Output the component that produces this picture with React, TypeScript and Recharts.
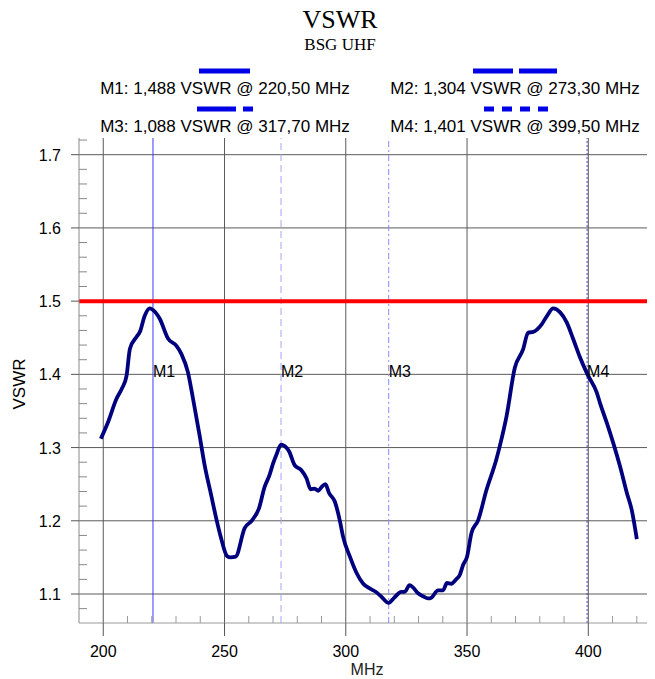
import { LineChart, Line, XAxis, YAxis, ReferenceLine, ReferenceDot } from 'recharts';

const freqs = [
  199, 202, 205.5, 207.6, 209.6, 211, 213.7, 215.1, 217.1, 219.2, 220.5, 223.3, 226.7, 230.2, 232.2,
  234.9, 237, 239.7, 241.8, 244.5, 246.6, 248.6, 251, 252.5, 254.6, 258.3, 261.2, 264.2, 266.5, 268.5,
  270, 271.6, 273.3, 274.8, 276.6, 278.9, 281.7, 283.8, 285.5, 287.2, 288.6, 290, 291.6, 293.1, 295.5,
  297.5, 298.9, 301.7, 304.4, 307.2, 310.2, 312.3, 314.5, 317.7, 320, 322.9, 324.3, 326.3, 327.7, 329.8,
  331.8, 333.9, 335.3, 338, 340.1, 341.7, 343.5, 345.5, 347, 348.4, 350, 351.8, 354.6, 358, 362.1,
  363.5, 366.3, 369.7, 373.1, 375.2, 377.3, 380.7, 383, 385.5, 388.3, 391.1, 393.8, 396.6, 399.5, 403.5,
  404.8, 407.6, 410.3, 413.1, 415.9, 417.9, 420,
];
const vswr = [
  1.312, 1.335, 1.367, 1.38, 1.398, 1.435, 1.451, 1.458, 1.48, 1.49, 1.488, 1.476, 1.449, 1.439, 1.428,
  1.403, 1.367, 1.317, 1.276, 1.235, 1.203, 1.176, 1.152, 1.15, 1.151, 1.19, 1.2, 1.217, 1.246, 1.262,
  1.278, 1.292, 1.304, 1.302, 1.295, 1.276, 1.269, 1.258, 1.243, 1.244, 1.241, 1.246, 1.25, 1.238, 1.226,
  1.201, 1.178, 1.151, 1.129, 1.114, 1.107, 1.103, 1.097, 1.088, 1.095, 1.103, 1.103, 1.112, 1.109, 1.101,
  1.097, 1.094, 1.095, 1.105, 1.105, 1.115, 1.114, 1.12, 1.126, 1.14, 1.151, 1.183, 1.201, 1.242, 1.284,
  1.302, 1.343, 1.409, 1.434, 1.457, 1.458, 1.468, 1.48, 1.49, 1.485, 1.471, 1.448, 1.423, 1.401, 1.375,
  1.361, 1.334, 1.306, 1.274, 1.238, 1.215, 1.175,
];

const markerNames = ['M1', 'M2', 'M3', 'M4'];
const markerFreqs = [220.5, 273.3, 317.7, 399.5];
const markerVswr = [1.488, 1.304, 1.088, 1.401];
const markerLabelLevel = 1.4;
const limitVswr = 1.5;

const xTicks = [200, 210, 220, 230, 240, 250, 260, 270, 280, 290, 300, 310, 320, 330, 340, 350, 360, 370, 380, 390, 400, 410, 420];
const xMajor = [200, 250, 300, 350, 400];
const yTicks = [1.08, 1.1, 1.12, 1.14, 1.16, 1.18, 1.2, 1.22, 1.24, 1.26, 1.28, 1.3, 1.32, 1.34, 1.36, 1.38, 1.4,
  1.42, 1.44, 1.46, 1.48, 1.5, 1.52, 1.54, 1.56, 1.58, 1.6, 1.62, 1.64, 1.66, 1.68, 1.7, 1.72];
const yMajor = [1.1, 1.2, 1.3, 1.4, 1.5, 1.6, 1.7];

const SANS = 'Arial, "Liberation Sans", sans-serif';
const SERIF = '"Times New Roman", "Liberation Serif", serif';

const markerStyles = [
  { stroke: '#3c3cff', dash: undefined },
  { stroke: '#a4a4ff', dash: '7 4' },
  { stroke: '#8c8cff', dash: '6 3 2 3' },
  { stroke: '#4c4cc4', dash: '2 2' },
];

// legend swatches per marker
const legendSwatch = [
  { cx: 225, row: 0, x1: 199, x2: 250, dash: undefined },
  { cx: 515, row: 0, x1: 473, x2: 557, dash: '40 6' },
  { cx: 225, row: 1, x1: 197, x2: 253, dash: '39 7 11 7' },
  { cx: 515, row: 1, x1: 484, x2: 548, dash: '10 8' },
];

const rows = freqs.map((f, i) => ({ f, v: vswr[i] }));

const fmt = (n: number, d: number) => n.toFixed(d).replace('.', ',');

function XTick(props: any) {
  const { x, y, payload } = props;
  const major = xMajor.includes(payload.value);
  return (
    <g>
      {major ? (
        <line x1={x} x2={x} y1={y} y2={y + 13} stroke="#555" />
      ) : (
        <line x1={x} x2={x} y1={y} y2={y - 7} stroke="#999" />
      )}
      {major && (
        <text x={x} y={y + 34} textAnchor="middle" fontSize={16} fontFamily={SANS} fill="#000">
          {payload.value}
        </text>
      )}
    </g>
  );
}

function YTick(props: any) {
  const { x, y, payload } = props;
  const major = yMajor.some((m) => Math.abs(m - payload.value) < 1e-6);
  return (
    <g>
      {major ? (
        <line x1={x - 8} x2={x} y1={y} y2={y} stroke="#555" />
      ) : (
        <line x1={x} x2={x + 8} y1={y} y2={y} stroke="#888" />
      )}
      {major && (
        <text x={x - 18} y={y + 6} textAnchor="end" fontSize={16} fontFamily={SANS} fill="#000">
          {payload.value.toFixed(1)}
        </text>
      )}
    </g>
  );
}

function MarkerLabel(props: any) {
  const { viewBox, value } = props;
  const cx = viewBox.x + viewBox.width / 2;
  const cy = viewBox.y + viewBox.height / 2;
  return (
    <text x={cx} y={cy + 3} fontSize={16} fontFamily={SANS} fill="#000">
      {value}
    </text>
  );
}

export default function App() {
  return (
    <div style={{ position: 'relative', width: 655, height: 687, margin: -8, background: '#fff' }}>
      <div style={{ position: 'absolute', left: 0, top: 0 }}>
        <LineChart width={655} height={679} data={rows} margin={{ top: 138, right: 0, bottom: 0, left: 0 }}>
          <XAxis
            dataKey="f"
            type="number"
            domain={[190, 427.5]}
            ticks={xTicks}
            interval={0}
            allowDataOverflow
            height={56}
            tickSize={0}
            tickMargin={0}
            tickLine={false}
            axisLine={{ stroke: '#999' }}
            tick={<XTick />}
          />
          <YAxis
            type="number"
            domain={[1.0604, 1.7228]}
            ticks={yTicks}
            interval={0}
            allowDataOverflow
            width={79}
            tickSize={0}
            tickMargin={0}
            tickLine={false}
            axisLine={{ stroke: '#888' }}
            tick={<YTick />}
          />
          {yMajor.map((v) => (
            <ReferenceLine key={'h' + v} y={v} stroke="#5a5a5a" strokeWidth={1} />
          ))}
          {xMajor.map((v) => (
            <ReferenceLine key={'v' + v} x={v} stroke="#5a5a5a" strokeWidth={1} />
          ))}
          {markerFreqs.map((f, i) => (
            <ReferenceLine
              key={markerNames[i]}
              x={f}
              stroke={markerStyles[i].stroke}
              strokeDasharray={markerStyles[i].dash}
              strokeWidth={1}
            />
          ))}
          <ReferenceLine y={limitVswr} stroke="#ff0000" strokeWidth={4} />
          {markerFreqs.map((f, i) => (
            <ReferenceDot
              key={'lbl' + markerNames[i]}
              x={f}
              y={markerLabelLevel}
              r={1}
              fill="none"
              stroke="none"
              label={<MarkerLabel value={markerNames[i]} />}
            />
          ))}
          <Line
            dataKey="v"
            type="monotone"
            stroke="#00007f"
            strokeWidth={3.8}
            dot={false}
            activeDot={false}
            isAnimationActive={false}
          />
        </LineChart>
      </div>
      <svg width={655} height={687} style={{ position: 'absolute', left: 0, top: 0, pointerEvents: 'none' }}>
        <text x={340} y={28} textAnchor="middle" fontSize={26} fontFamily={SERIF} fill="#000">VSWR</text>
        <text x={340} y={50} textAnchor="middle" fontSize={17} fontFamily={SERIF} fill="#000">BSG UHF</text>
        {markerNames.map((name, i) => {
          const s = legendSwatch[i];
          const base = 94 + s.row * 38;
          return (
            <g key={name}>
              <line x1={s.x1} x2={s.x2} y1={base - 23} y2={base - 23} stroke="#0000e6" strokeWidth={5} strokeDasharray={s.dash} />
              <text x={s.cx} y={base} textAnchor="middle" fontSize={17} fontFamily={SANS} fill="#000">
                {`${name}: ${fmt(markerVswr[i], 3)} VSWR @ ${fmt(markerFreqs[i], 2)} MHz`}
              </text>
            </g>
          );
        })}
        <text x={25} y={384} transform="rotate(-90 25 384)" textAnchor="middle" fontSize={17} fontFamily={SANS} fill="#000">
          VSWR
        </text>
        <text x={367} y={675} textAnchor="middle" fontSize={16} fontFamily={SANS} fill="#222">
          MHz
        </text>
      </svg>
    </div>
  );
}
